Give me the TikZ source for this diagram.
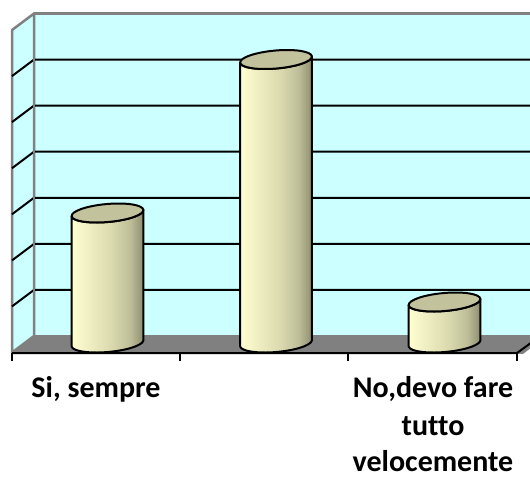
\documentclass[tikz,border=0pt]{standalone}
\usepackage{fontspec}
\setmainfont{Carlito}[Ligatures={NoCommon}]
\definecolor{wallc}{HTML}{CCFFFF}
\definecolor{wallline}{HTML}{808080}
\definecolor{floorc}{HTML}{808080}
\definecolor{cylA}{HTML}{FFFFD2}
\definecolor{cylB}{HTML}{F0F0C4}
\definecolor{cylC}{HTML}{DCDBB0}
\definecolor{cylD}{HTML}{BDBD98}
\definecolor{cylE}{HTML}{8E8E70}
\definecolor{cyltop}{HTML}{C2C29C}
\pgfdeclarehorizontalshading{cylshade}{100bp}{color(0bp)=(cylA); color(25bp)=(cylA); color(36bp)=(cylB); color(52bp)=(cylC); color(66bp)=(cylD); color(75bp)=(cylE); color(100bp)=(cylE)}
\newcommand\cylrx{36}
\newcommand\cylry{9}
\newcommand\cylth{5}
\newcommand\cylyb{343}
\newcommand\cylinder[3]{%
  \path[shading=cylshade, draw=black, line width=2pt, line join=round]
    plot[domain=180:0, samples=41, smooth] ({#2+\cylrx*cos(\x)*cos(\cylth)+\cylry*sin(\x)*sin(\cylth)}, {\cylyb-\cylrx*cos(\x)*sin(\cylth)+\cylry*sin(\x)*cos(\cylth)})
    -- plot[domain=0:180, samples=41, smooth] ({#2+\cylrx*cos(\x)*cos(\cylth)+\cylry*sin(\x)*sin(\cylth)}, {#3-\cylrx*cos(\x)*sin(\cylth)+\cylry*sin(\x)*cos(\cylth)})
    -- cycle;
  \draw[fill=cyltop, line width=2pt, rotate around={\cylth:(#2,#3)}] (#2,#3) ellipse [x radius=\cylrx, y radius=\cylry];
  \coordinate (#1) at (#2,#3);
}
\tikzset{
  wall/.style={fill=wallc, draw=wallline, line width=2.5pt, line join=round},
  grid/.style={draw=black, line width=2pt},
  axisline/.style={draw=black, line width=2pt},
  lab/.style={font=\fontsize{30}{39}\selectfont\bfseries, inner sep=0pt, anchor=base, align=center}
}
\begin{document}
\begin{tikzpicture}[x=1pt, y=-1pt]
\useasboundingbox (0,0) rectangle (530,477);
\clip (0,0) rectangle (530,477);
% walls
\path[wall] (34,13.5) -- (545,13.5) -- (545,336) -- (34,336) -- cycle;
\path[wall] (12,30) -- (34,13.5) -- (34,336) -- (12,352.5) -- cycle;
% gridlines
\foreach \g in {59.6,105.6,151.7,197.8,243.9,289.9}{
  \draw[grid] (12,\g+16.5) -- (34,\g) -- (545,\g);
}
\draw[draw=wallline, line width=2.5pt] (34,13.5) -- (34,336);
% floor
\path[fill=floorc, draw=wallline, line width=1.5pt, line join=round] (12,353) -- (34,336) -- (545,336) -- (523,353) -- cycle;
% axis
\coordinate (a0) at (12,353);
\coordinate (a1) at (180,353);
\coordinate (a2) at (348,353);
\coordinate (a3) at (517,353);
\coordinate (ar) at (539,337);
\draw[axisline] (a0) -- (a3) -- (ar);
\foreach \t in {a0,a1,a2,a3}{ \draw[axisline] (\t) -- ++(0,8); }
% cylinders
\cylinder{c1}{107.5}{213}
\cylinder{c2}{276}{59.5}
\cylinder{c3}{444.5}{302}
% labels
\node[lab] (l1) at (96,397) {Si, sempre};
\node[lab] (l3a) at (433,397) {No,devo fare};
\node[lab] (l3b) at (433,435) {tutto};
\node[lab] (l3c) at (433,471) {velocemente};
\end{tikzpicture}
\end{document}
